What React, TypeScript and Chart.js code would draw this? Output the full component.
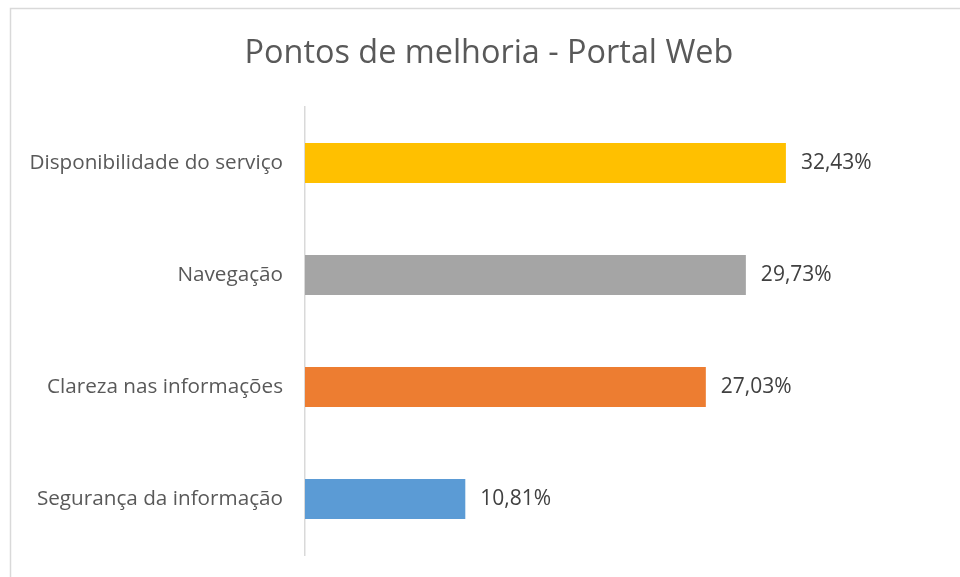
import React, { useEffect, useRef } from "react";
import { Chart, registerables } from "chart.js";

Chart.register(...registerables);

const categories = [
  "Disponibilidade do serviço",
  "Navegação",
  "Clareza nas informações",
  "Segurança da informação",
];
const values = [32.43, 29.73, 27.03, 10.81];
const barColors = ["#FFC000", "#A5A5A5", "#ED7D31", "#5B9BD5"];
const titleText = "Pontos de melhoria - Portal Web";

const FONT = "'Open Sans', sans-serif";

const frameAndLabels = {
  id: "frameAndLabels",
  beforeDraw(chart: any) {
    const ctx = chart.ctx;
    ctx.save();
    ctx.strokeStyle = "#d9d9d9";
    ctx.lineWidth = 1.5;
    ctx.strokeRect(10.5, 8.5, chart.width + 20, chart.height + 20);
    ctx.restore();
  },
  afterDatasetsDraw(chart: any) {
    const ctx = chart.ctx;
    const meta = chart.getDatasetMeta(0);
    ctx.save();
    ctx.font = `21px ${FONT}`;
    ctx.fillStyle = "#404040";
    ctx.textAlign = "left";
    ctx.textBaseline = "middle";
    meta.data.forEach((bar: any, i: number) => {
      const v = chart.data.datasets[0].data[i] as number;
      const txt = v.toFixed(2).replace(".", ",") + "%";
      ctx.fillText(txt, bar.x + 15, bar.y);
    });
    ctx.restore();
  },
};

export default function App() {
  const ref = useRef<HTMLCanvasElement>(null);
  useEffect(() => {
    if (!ref.current) return;
    const chart = new Chart(ref.current, {
      type: "bar",
      data: {
        labels: categories,
        datasets: [
          {
            data: values,
            backgroundColor: barColors,
            borderWidth: 0,
            barPercentage: 40 / 112,
            categoryPercentage: 1,
          },
        ],
      },
      options: {
        indexAxis: "y",
        animation: false,
        responsive: true,
        maintainAspectRatio: false,
        layout: { padding: { left: 18, right: 0, top: 0, bottom: 22 } },
        plugins: {
          legend: { display: false },
          tooltip: { enabled: false },
          title: {
            display: true,
            text: titleText,
            color: "#595959",
            font: { family: FONT, size: 32.4, weight: "normal", lineHeight: 1.2 },
            padding: { top: 34, bottom: 34.1 },
          },
        },
        scales: {
          x: {
            display: false,
            min: 0,
            max: 44.17,
          },
          y: {
            grid: { display: false, drawTicks: false },
            border: { display: true, color: "#d9d9d9", width: 1.5 },
            ticks: {
              color: "#595959",
              padding: 22,
              font: { family: FONT, size: 20.7 },
            },
            afterFit: (scale: any) => {
              scale.width = 287;
              scale.paddingTop = 0;
              scale.paddingBottom = 0;
            },
          },
        },
      },
      plugins: [frameAndLabels],
    });
    return () => chart.destroy();
  }, []);
  return (
    <div style={{ position: "fixed", left: 0, top: 0, width: 960, height: 577, background: "#fff" }}>
      <canvas ref={ref} />
    </div>
  );
}
